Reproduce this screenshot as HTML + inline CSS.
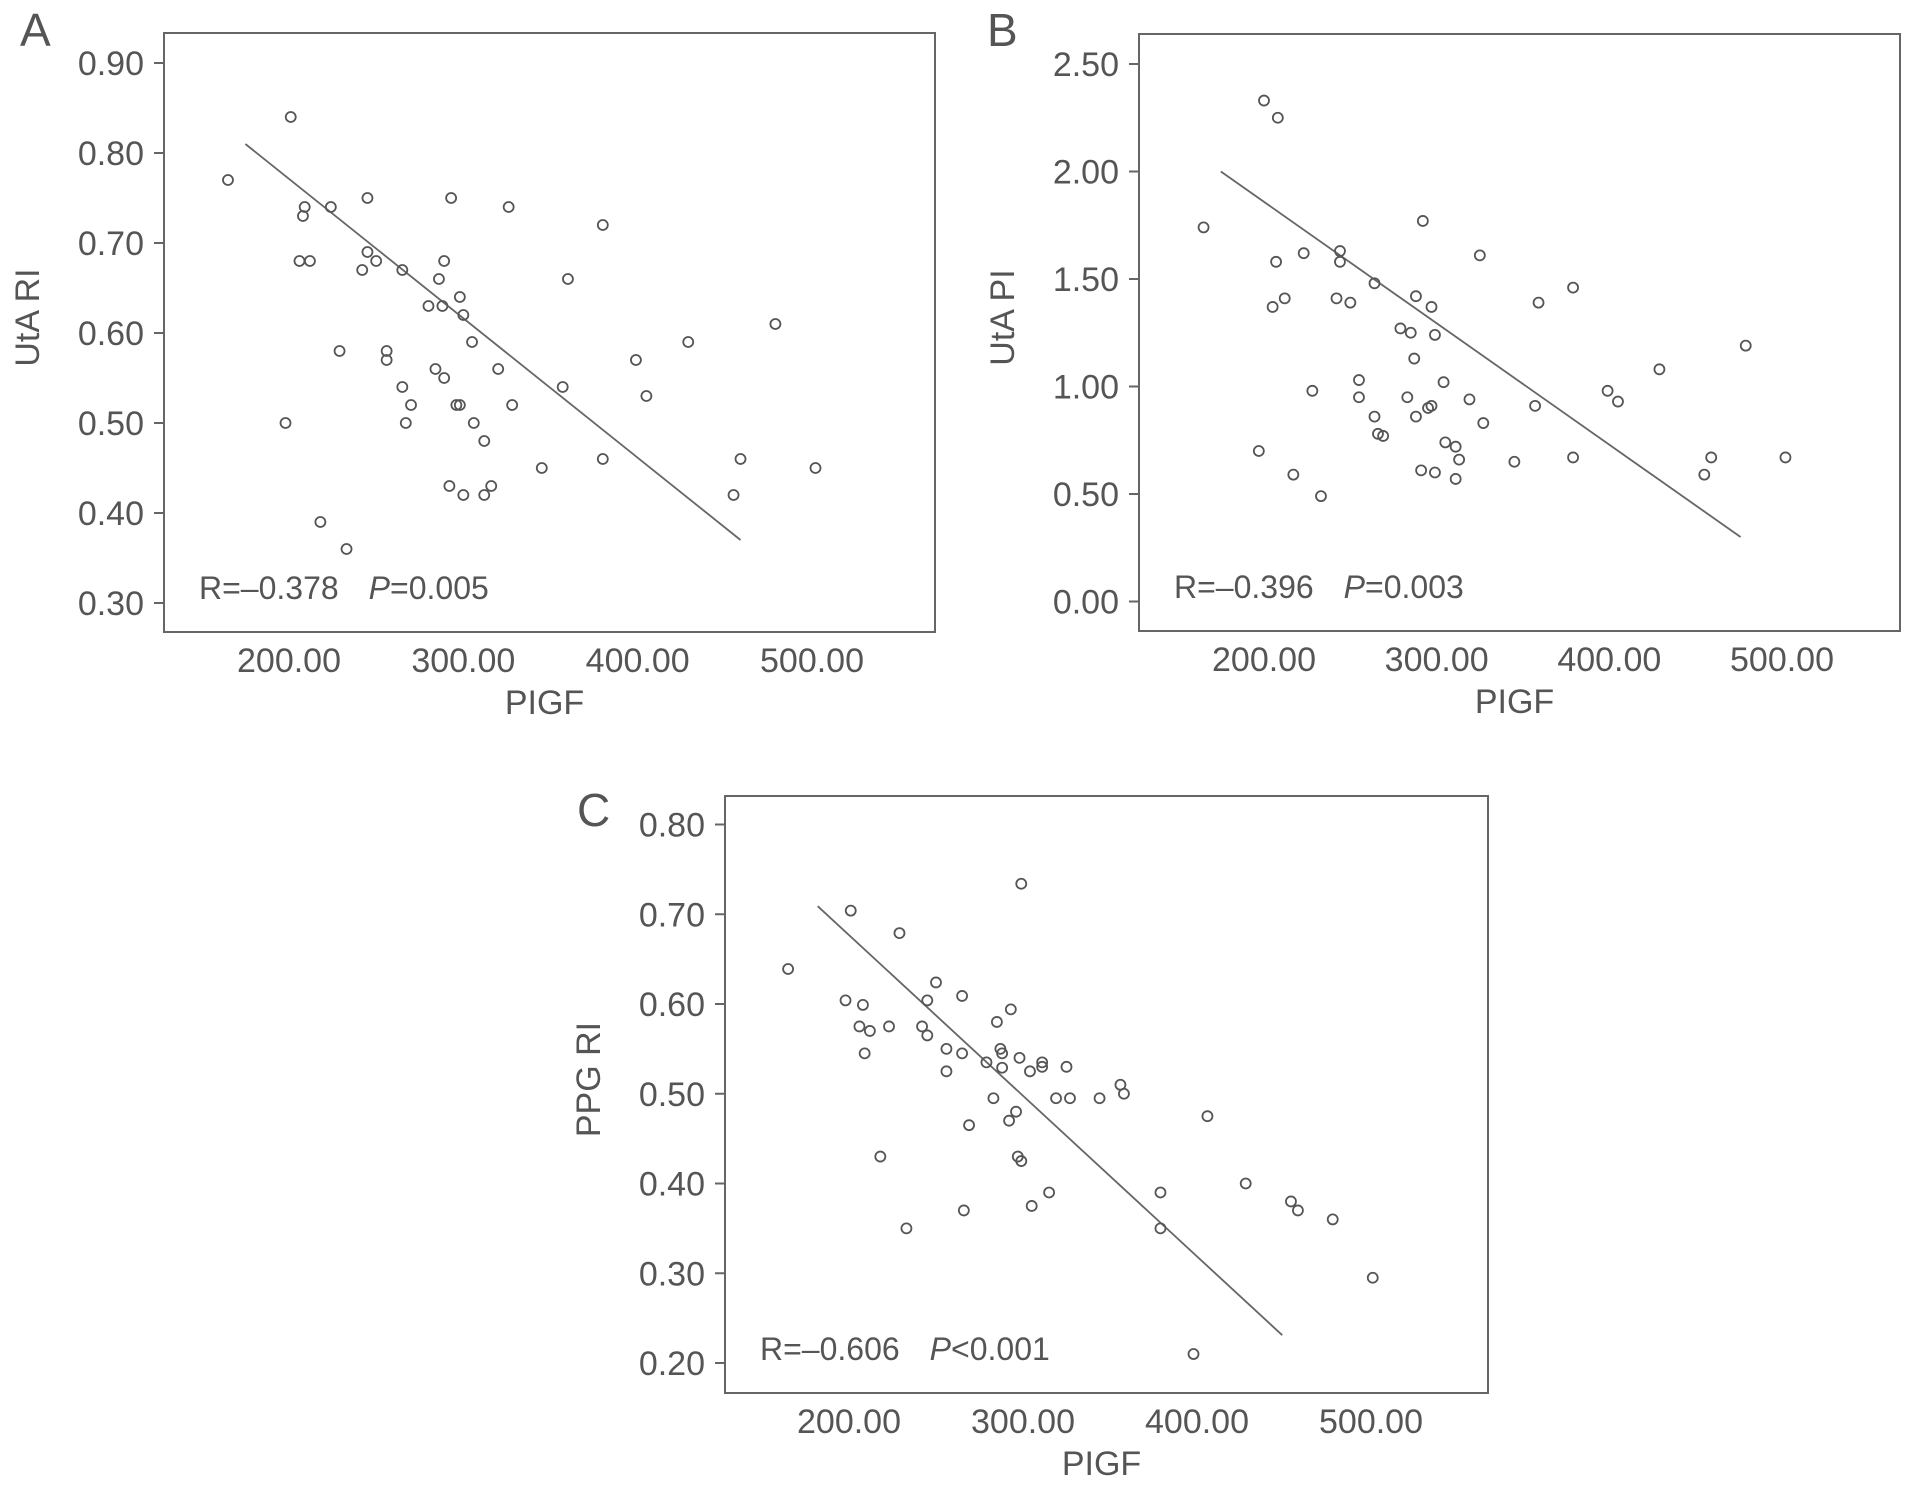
<!DOCTYPE html>
<html><head><meta charset="utf-8"><style>
html,body{margin:0;padding:0;background:#fff;}
svg{display:block;}
text{font-family:"Liberation Sans",sans-serif;fill:#555;}
</style></head><body>
<svg id="fig" width="1913" height="1489" viewBox="0 0 1913 1489"></svg>
<script>
// Panel A data
const aX = [165,201,209,208,224,206,212,245,245,250,242,265,293,326,380,360,289,286,298,280,288,300,479,305,429,229,256,256,399,284,320,289,357,265,405,270,296,298,328,198,267,306,312,380,459,345,502,292,316,300,312,455,218,233];
const aY = [0.77,0.84,0.74,0.73,0.74,0.68,0.68,0.75,0.69,0.68,0.67,0.67,0.75,0.74,0.72,0.66,0.68,0.66,0.64,0.63,0.63,0.62,0.61,0.59,0.59,0.58,0.58,0.57,0.57,0.56,0.56,0.55,0.54,0.54,0.53,0.52,0.52,0.52,0.52,0.50,0.50,0.50,0.48,0.46,0.46,0.45,0.45,0.43,0.43,0.42,0.42,0.42,0.39,0.36];
const aLine = [[175,0.81],[459,0.37]];
const aYTicks = [0.30,0.40,0.50,0.60,0.70,0.80,0.90];
// Panel B data
const bX = [200,208,165,292,325,223,244,244,207,264,379,212,205,242,250,288,297,359,279,285,299,479,287,429,255,304,228,399,255,283,319,405,357,297,295,264,288,327,266,269,305,311,197,313,379,459,502,345,291,299,217,455,311,233];
const bY = [2.33,2.25,1.74,1.77,1.61,1.62,1.63,1.58,1.58,1.48,1.46,1.41,1.37,1.41,1.39,1.42,1.37,1.39,1.27,1.25,1.24,1.19,1.13,1.08,1.03,1.02,0.98,0.98,0.95,0.95,0.94,0.93,0.91,0.91,0.90,0.86,0.86,0.83,0.78,0.77,0.74,0.72,0.70,0.66,0.67,0.67,0.67,0.65,0.61,0.60,0.59,0.59,0.57,0.49];
const bLine = [[175,2.00],[476,0.30]];
const bYTicks = [0.00,0.50,1.00,1.50,2.00,2.50];
// Panel C data
const cX = [299,201,229,165,250,265,198,245,208,293,285,206,212,223,242,245,256,287,288,209,265,298,279,311,311,288,325,256,304,356,358,283,319,327,344,296,406,292,269,218,297,299,428,379,315,454,458,266,305,478,233,379,501,398];
const cY = [0.734,0.704,0.679,0.639,0.624,0.609,0.604,0.604,0.599,0.594,0.580,0.575,0.570,0.575,0.575,0.565,0.550,0.550,0.545,0.545,0.545,0.540,0.535,0.535,0.530,0.529,0.530,0.525,0.525,0.510,0.500,0.495,0.495,0.495,0.495,0.480,0.475,0.470,0.465,0.430,0.430,0.425,0.400,0.390,0.390,0.380,0.370,0.370,0.375,0.360,0.350,0.350,0.295,0.210];
const cLine = [[182,0.709],[449,0.231]];
const cYTicks = [0.20,0.30,0.40,0.50,0.60,0.70,0.80];
const xTicks = [200,300,400,500];

const NS = 'http://www.w3.org/2000/svg';
const svg = document.getElementById('fig');
function mk(tag, attrs, parent){
  const e = document.createElementNS(NS, tag);
  for (const k in attrs) e.setAttribute(k, attrs[k]);
  (parent||svg).appendChild(e);
  return e;
}
function panel(cfg){
  const g = mk('g', {});
  
  
  const sx = v => cfg.x0 + (v - 200) * (cfg.x1 - cfg.x0) / 300;
  const sy = v => cfg.yb + (v - cfg.vb) * (cfg.yt - cfg.yb) / (cfg.vt - cfg.vb);
  const frame = mk('rect', {x:cfg.L, y:cfg.T, width:cfg.R-cfg.L, height:cfg.B-cfg.T, fill:'none', stroke:'#666', 'stroke-width':2}, g);
  
  
  const lt = mk('text', {x:cfg.lx, y:cfg.ly, 'font-size':46}, g);
  lt.textContent = cfg.id.toUpperCase();
  
  
  cfg.yTicks.forEach(v => {
    const y = sy(v);
    const tk = mk('line', {x1:cfg.L-10, x2:cfg.L, y1:y, y2:y, stroke:'#666', 'stroke-width':2}, g);
    
    
    const t = mk('text', {x:cfg.L-20, y:y+12, 'font-size':34, 'text-anchor':'end'}, g);
    t.textContent = v.toFixed(2);
    
    
  });
  xTicks.forEach(v => {
    const t = mk('text', {x:sx(v), y:cfg.B+40, 'font-size':34, 'text-anchor':'middle'}, g);
    t.textContent = v.toFixed(2);
    
    
  });
  const xt = mk('text', {x:(cfg.L+cfg.R)/2 - 5, y:cfg.B+82, 'font-size':34, 'text-anchor':'middle'}, g);
  xt.textContent = 'PIGF';
  
  
  const ycx = cfg.L - 125, ycy = (cfg.T+cfg.B)/2 - 15;
  const yt = mk('text', {x:ycx, y:ycy, 'font-size':34, 'text-anchor':'middle', transform:'rotate(-90 '+ycx+' '+ycy+')'}, g);
  yt.textContent = cfg.ytitle;
  
  
  const fl = mk('line', {x1:sx(cfg.line[0][0]), y1:sy(cfg.line[0][1]), x2:sx(cfg.line[1][0]), y2:sy(cfg.line[1][1]), stroke:'#666', 'stroke-width':1.8}, g);
  
  
  cfg.xs.forEach((xv, i) => {
    const c = mk('circle', {cx:sx(xv), cy:sy(cfg.ys[i]), r:5, fill:'none', stroke:'#555', 'stroke-width':1.8}, g);
    
    
  });
  const an = mk('text', {x:cfg.L+35, y:cfg.B-33, 'font-size':32}, g);
  an.innerHTML = cfg.r + '<tspan dx="30" font-style="italic">P</tspan>' + cfg.p;
  
  
}
panel({id:'a', L:164, R:935, T:33, B:632, x0:289, x1:812, yb:603, yt:63, vb:0.30, vt:0.90,
  lx:20, ly:46, yTicks:aYTicks, ytitle:'UtA RI', xs:aX, ys:aY, line:aLine, r:'R=\u20130.378', p:'=0.005'});
panel({id:'b', L:1139, R:1900, T:34, B:631, x0:1264, x1:1782, yb:601.5, yt:64, vb:0, vt:2.5,
  lx:987, ly:46, yTicks:bYTicks, ytitle:'UtA PI', xs:bX, ys:bY, line:bLine, r:'R=\u20130.396', p:'=0.003'});
panel({id:'c', L:725, R:1488, T:796, B:1393, x0:849, x1:1371, yb:1363, yt:824.5, vb:0.20, vt:0.80,
  lx:577, ly:826, yTicks:cYTicks, ytitle:'PPG RI', xs:cX, ys:cY, line:cLine, r:'R=\u20130.606', p:'<0.001'});
</script>
</body></html>
